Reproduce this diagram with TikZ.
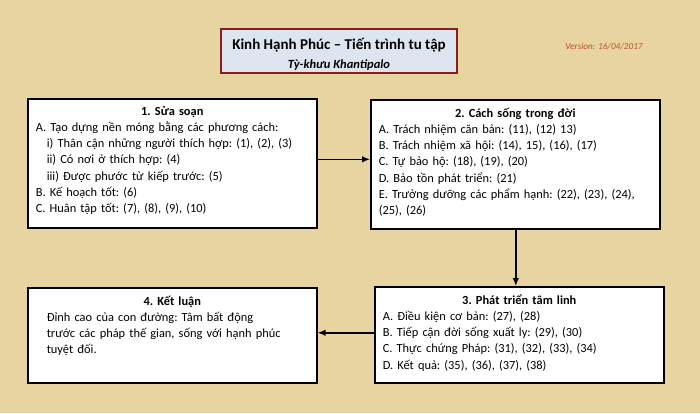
\documentclass[tikz,border=0pt]{standalone}
\usepackage{fontspec}
\setmainfont{Carlito}
\usepackage{tikz}
\usetikzlibrary{arrows.meta, positioning}
\usepackage{xcolor}

\definecolor{parchment}{RGB}{232,212,160}
\definecolor{headfill}{RGB}{221,229,240}
\definecolor{headline}{RGB}{140,28,28}
\definecolor{versioncol}{RGB}{188,82,42}

\newcommand{\firststrut}{\rule{0pt}{12pt}}
\newcommand{\subin}{\hspace*{11pt}}

\tikzset{
    stagebox/.style={draw=black, fill=white, line width=1.6pt, anchor=north west,
        minimum width=289pt, inner sep=0pt},
    stagetext/.style={anchor=north, inner sep=0pt, text width=273pt, align=left,
        font=\fontsize{12.4}{16.2}\selectfont\frenchspacing},
    link/.style={line width=1.4pt, -{Latex[length=8pt,width=6.5pt]}}
}

\begin{document}
\begin{tikzpicture}[x=1pt, y=-1pt]
            \fill[parchment] (0,0) rectangle (700,413);
            \useasboundingbox (0,0) rectangle (700,413);

            % heading
            \node[draw=headline, fill=headfill, line width=2.2pt, minimum width=236pt,
                minimum height=44pt, inner sep=0pt, align=center,
                font=\fontsize{13}{19}\selectfont] (head) at (339,51)
                {{\fontsize{15}{19}\selectfont\bfseries\rule{0pt}{17pt}Kinh Hạnh Phúc – Tiến trình tu tập}\\
                 {\fontsize{12.5}{19}\selectfont\bfseries\itshape Tỳ-khưu Khantipalo}};
            \node[text=versioncol, font=\fontsize{9.2}{11}\selectfont\itshape] (version)
                at (604,47) {Version: 16/04/2017};

            % the four stages
            \node[stagebox, minimum height=129pt] (prep) at (27,98) {};
            \node[stagebox, minimum height=129pt] (life) at (370,99) {};
            \node[stagebox, minimum height=96pt] (spirit) at (374,286) {};
            \node[stagebox, minimum height=95pt] (concl) at (27,287) {};

            \node[stagetext] (prepText) at ([yshift=-5pt]prep.north) {%
                {\centering\firststrut\bfseries 1. Sửa soạn\par}
                A. Tạo dựng nền móng bằng các phương cách:\\
                \subin i) Thân cận những người thích hợp: (1), (2), (3)\\
                \subin ii) Có nơi ở thích hợp: (4)\\
                \subin iii) Được phước từ kiếp trước: (5)\\
                B. Kế hoạch tốt: (6)\\
                C. Huân tập tốt: (7), (8), (9), (10)};
            \node[stagetext] (lifeText) at ([yshift=-6pt]life.north) {%
                {\centering\firststrut\bfseries 2. Cách sống trong đời\par}
                A. Trách nhiệm căn bản: (11), (12) 13)\\
                B. Trách nhiệm xã hội: (14), 15), (16), (17)\\
                C. Tự bảo hộ: (18), (19), (20)\\
                D. Bảo tồn phát triển: (21)\\
                E. Trưởng dưỡng các phẩm hạnh: (22), (23), (24),\\
                (25), (26)};
            \node[stagetext] (spiritText) at ([yshift=-6pt]spirit.north) {%
                {\centering\firststrut\bfseries 3. Phát triển tâm linh\par}
                A. Điều kiện cơ bản: (27), (28)\\
                B. Tiếp cận đời sống xuất ly: (29), (30)\\
                C. Thực chứng Pháp: (31), (32), (33), (34)\\
                D. Kết quả: (35), (36), (37), (38)};
            \node[stagetext] (conclText) at ([yshift=-6pt]concl.north) {%
                {\centering\firststrut\bfseries 4. Kết luận\par}
                \subin Đỉnh cao của con đường: Tâm bất động\\
                \subin trước các pháp thế gian, sống với hạnh phúc\\
                \subin tuyệt đối.};

            % arrows
            \draw[link] ([yshift=4pt]prep.east) -- ([yshift=4pt]prep.east -| life.west);
            \draw[link] ([xshift=0.5pt]life.south) -- ([xshift=0.5pt]life.south |- spirit.north);
            \draw[link] ([yshift=2pt]spirit.west) -- ([yshift=2pt]spirit.west -| concl.east);
        \end{tikzpicture}
\end{document}
